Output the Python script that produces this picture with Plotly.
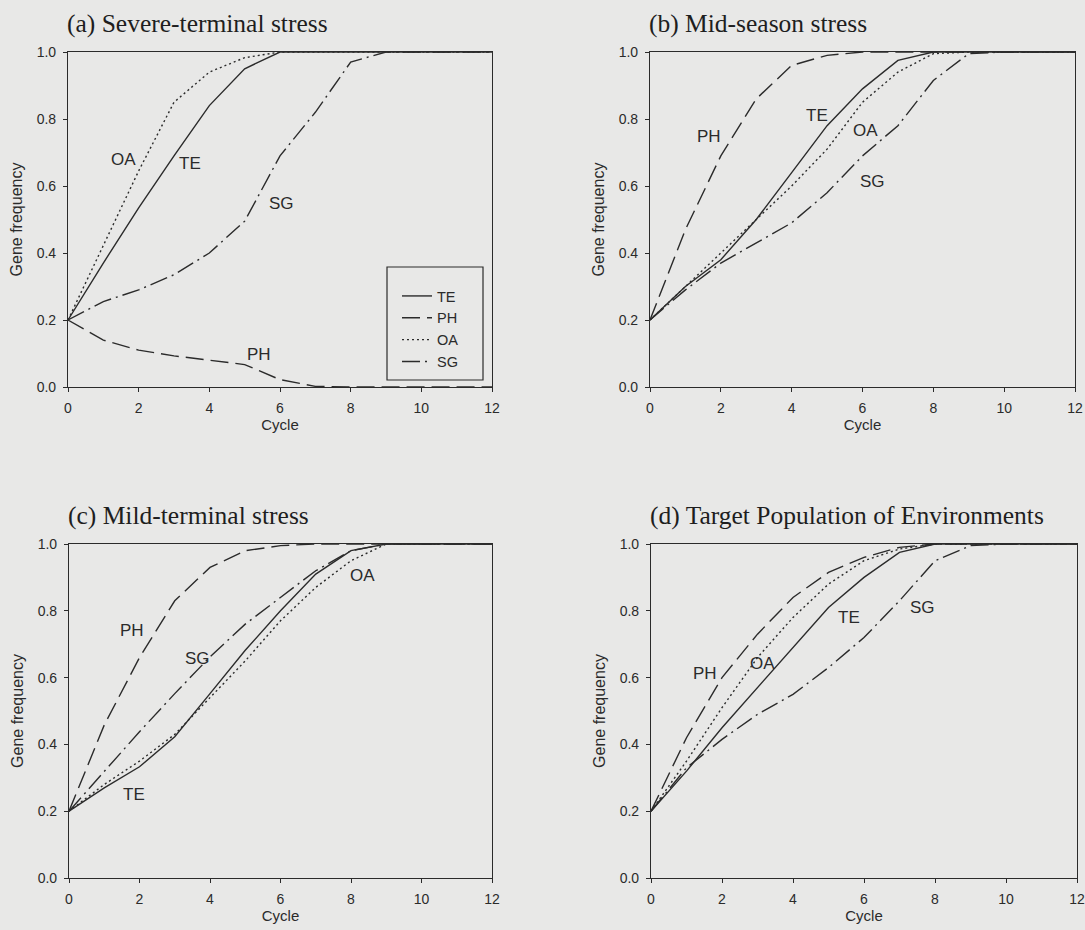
import plotly.graph_objects as go

cycles = list(range(13))

# (a) Severe-terminal stress
a_TE = [0.2, 0.37, 0.535, 0.69, 0.84, 0.95, 1.0, 1.0, 1.0, 1.0, 1.0, 1.0, 1.0]
a_PH = [0.2, 0.14, 0.11, 0.093, 0.08, 0.067, 0.022, 0.002, 0.0, 0.0, 0.0, 0.0, 0.0]
a_OA = [0.2, 0.42, 0.645, 0.85, 0.94, 0.983, 1.0, 1.0, 1.0, 1.0, 1.0, 1.0, 1.0]
a_SG = [0.2, 0.255, 0.29, 0.335, 0.40, 0.495, 0.69, 0.82, 0.97, 1.0, 1.0, 1.0, 1.0]

# (b) Mid-season stress
b_TE = [0.2, 0.30, 0.38, 0.50, 0.64, 0.78, 0.89, 0.975, 1.0, 1.0, 1.0, 1.0, 1.0]
b_PH = [0.2, 0.47, 0.69, 0.86, 0.96, 0.99, 1.0, 1.0, 1.0, 1.0, 1.0, 1.0, 1.0]
b_OA = [0.2, 0.30, 0.40, 0.50, 0.60, 0.71, 0.85, 0.94, 0.995, 1.0, 1.0, 1.0, 1.0]
b_SG = [0.2, 0.29, 0.37, 0.43, 0.49, 0.58, 0.69, 0.78, 0.915, 0.995, 1.0, 1.0, 1.0]

# (c) Mild-terminal stress
c_TE = [0.2, 0.27, 0.333, 0.423, 0.552, 0.682, 0.80, 0.91, 0.98, 1.0, 1.0, 1.0, 1.0]
c_PH = [0.2, 0.458, 0.66, 0.83, 0.93, 0.98, 0.995, 1.0, 1.0, 1.0, 1.0, 1.0, 1.0]
c_OA = [0.2, 0.28, 0.35, 0.43, 0.54, 0.65, 0.77, 0.87, 0.95, 1.0, 1.0, 1.0, 1.0]
c_SG = [0.2, 0.318, 0.438, 0.552, 0.662, 0.76, 0.84, 0.92, 0.98, 1.0, 1.0, 1.0, 1.0]

# (d) Target Population of Environments
d_TE = [0.2, 0.32, 0.45, 0.57, 0.69, 0.81, 0.90, 0.975, 1.0, 1.0, 1.0, 1.0, 1.0]
d_PH = [0.2, 0.42, 0.60, 0.73, 0.84, 0.915, 0.96, 0.99, 1.0, 1.0, 1.0, 1.0, 1.0]
d_OA = [0.2, 0.35, 0.51, 0.66, 0.78, 0.88, 0.95, 0.985, 1.0, 1.0, 1.0, 1.0, 1.0]
d_SG = [0.2, 0.33, 0.415, 0.49, 0.55, 0.63, 0.72, 0.83, 0.95, 0.995, 1.0, 1.0, 1.0]

series_names = ["TE", "PH", "OA", "SG"]
panel_titles = ["(a) Severe-terminal stress", "(b) Mid-season stress",
                "(c) Mild-terminal stress", "(d) Target Population of Environments"]
panel_data = [[a_TE, a_PH, a_OA, a_SG], [b_TE, b_PH, b_OA, b_SG],
              [c_TE, c_PH, c_OA, c_SG], [d_TE, d_PH, d_OA, d_SG]]

# curve labels placed in the panels: (text, cycle, frequency)
a_labels = [("OA", 1.57, 0.68), ("TE", 3.44, 0.668), ("SG", 6.04, 0.548), ("PH", 5.4, 0.096)]
b_labels = [("PH", 1.67, 0.747), ("TE", 4.71, 0.81), ("OA", 6.08, 0.767), ("SG", 6.28, 0.613)]
c_labels = [("PH", 1.79, 0.741), ("SG", 3.65, 0.657), ("TE", 1.84, 0.249), ("OA", 8.32, 0.905)]
d_labels = [("PH", 1.52, 0.612), ("OA", 3.13, 0.642), ("TE", 5.58, 0.781), ("SG", 7.64, 0.811)]
panel_labels = [a_labels, b_labels, c_labels, d_labels]

x_ticks = [0, 2, 4, 6, 8, 10, 12]
y_ticks = [0.0, 0.2, 0.4, 0.6, 0.8, 1.0]

W, H = 1085, 930
BG = "#e8e8e7"
INK = "#2b2b2b"
SANS = "Liberation Sans, Arial, sans-serif"
SERIF = "Liberation Serif, Times New Roman, serif"
dashes = {"TE": "solid", "PH": "18px,7px", "OA": "2px,3px", "SG": "18px,5px,2px,5px"}

# plot-area pixel boxes: (left, right, top, bottom)
boxes = [(68, 492, 52, 387), (650, 1075, 52, 387),
         (69, 492, 544, 878), (651, 1077, 544, 878)]

fig = go.Figure()
layout = dict(width=W, height=H, paper_bgcolor=BG, plot_bgcolor=BG,
              margin=dict(l=0, r=0, t=0, b=0, pad=0, autoexpand=False),
              showlegend=True, font=dict(family=SANS, color=INK))
annotations = []

for i in range(4):
    sfx = "" if i == 0 else str(i + 1)
    xa, ya = "x" + sfx, "y" + sfx
    L, R, T, B = boxes[i]
    common = dict(showgrid=False, zeroline=False, showline=True, linecolor=INK,
                  linewidth=1.2, mirror=True, ticks="outside", ticklen=4,
                  tickwidth=1.2, tickcolor=INK, ticklabelstandoff=4,
                  automargin=False,
                  tickfont=dict(size=14, color=INK, family=SANS))
    layout["xaxis" + sfx] = dict(common, domain=[L / W, R / W], range=[0, 12],
                                 tickvals=x_ticks, anchor=ya,
                                 title=dict(text="Cycle", standoff=2,
                                            font=dict(size=15, color=INK)))
    layout["yaxis" + sfx] = dict(common, domain=[1 - B / H, 1 - T / H], range=[0, 1],
                                 tickvals=y_ticks, tickformat=".1f", anchor=xa,
                                 title=dict(text="Gene frequency", standoff=10,
                                            font=dict(size=16, color=INK)))
    for name, vals in zip(series_names, panel_data[i]):
        fig.add_trace(go.Scatter(x=cycles, y=vals, mode="lines", name=name,
                                 xaxis=xa, yaxis=ya, showlegend=(i == 0),
                                 line=dict(color=INK, width=1.4, dash=dashes[name])))
    for txt, cx, cy in panel_labels[i]:
        annotations.append(dict(text=txt, x=cx, y=cy, xref=xa, yref=ya,
                                showarrow=False,
                                font=dict(size=17, color=INK, family=SANS)))
    annotations.append(dict(text=panel_titles[i], x=(L - 3) / W, y=1 - (T - 29) / H,
                            xref="paper", yref="paper", xanchor="left",
                            yanchor="middle", showarrow=False,
                            font=dict(size=25.5, color="#1e1e1e", family=SERIF)))

layout["annotations"] = annotations
# legend frame (panel a)
layout["shapes"] = [dict(type="rect", xref="paper", yref="paper",
                         x0=387 / W, x1=483 / W, y0=1 - 380 / H, y1=1 - 267 / H,
                         line=dict(color=INK, width=1.2), fillcolor=BG, layer="above")]
layout["legend"] = dict(x=397 / W, y=1 - 280 / H, xanchor="left", yanchor="top",
                        bgcolor="rgba(0,0,0,0)", borderwidth=0,
                        font=dict(size=14.5, color=INK), itemwidth=30,
                        tracegroupgap=0)
fig.update_layout(**layout)
fig.write_html("out.html", config={"displayModeBar": False},
               post_script="document.body.style.margin='0px';"
                           "document.body.style.background='#e8e8e7';")
